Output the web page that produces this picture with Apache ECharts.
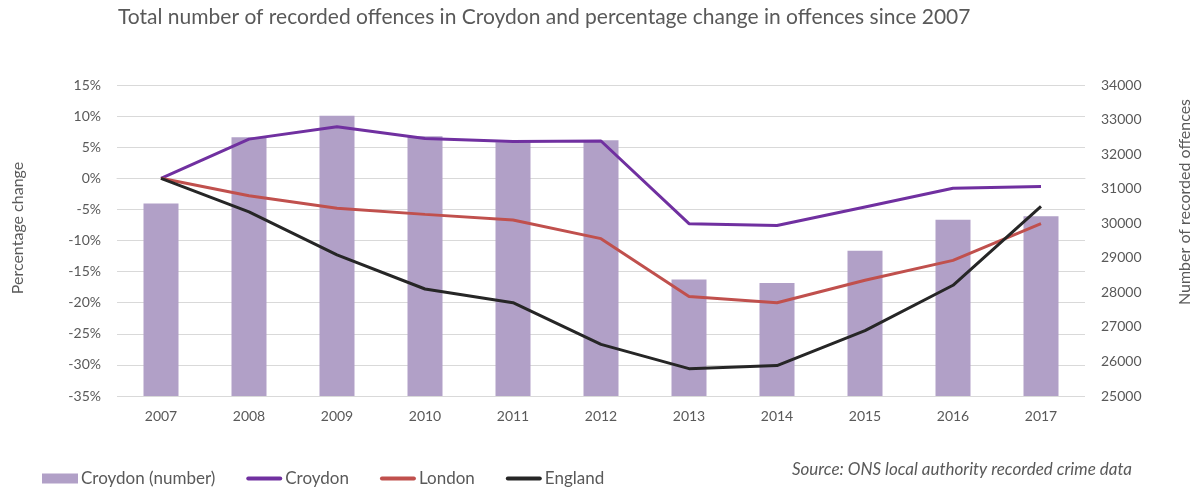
<!DOCTYPE html>
<html><head><meta charset="utf-8">
<script src="https://cdn.jsdelivr.net/npm/echarts@6/dist/echarts.min.js"></script>
<style>html,body{margin:0;padding:0;background:#fff}#c{width:1196px;height:488px}</style>
</head><body><div id="c"></div>
<script>
const years = ['2007','2008','2009','2010','2011','2012','2013','2014','2015','2016','2017'];
const croydonNumber = [30570, 32490, 33110, 32520, 32340, 32400, 28370, 28270, 29200, 30100, 30200];
const croydonPct = [0, 6.3, 8.3, 6.4, 5.9, 6.0, -7.3, -7.6, -4.6, -1.6, -1.3];
const londonPct = [0, -2.8, -4.8, -5.8, -6.7, -9.7, -19.0, -20.0, -16.4, -13.2, -7.3];
const englandPct = [0, -5.4, -12.3, -17.8, -20.0, -26.7, -30.6, -30.1, -24.5, -17.2, -4.5];

const FONT = 'Lato';
const GREY = '#595959';
const LINE_ICON = 'path://M2,0 L34,0 A2,2 0 0 1 34,4 L2,4 A2,2 0 0 1 2,0 Z';
const chart = echarts.init(document.getElementById('c'));
chart.setOption({
  animation: false,
  textStyle: { fontFamily: FONT },
  title: {
    text: 'Total number of recorded offences in Croydon and percentage change in offences since 2007',
    left: 113, top: 2,
    textStyle: { fontFamily: FONT, fontSize: 21, fontWeight: 'normal', color: GREY }
  },
  grid: { left: 117, right: 111, top: 85, bottom: 92 },
  legend: {
    left: 37, top: 465, itemGap: 31, itemWidth: 36, itemHeight: 10,
    textStyle: { fontFamily: FONT, fontSize: 17, color: GREY, padding: [0, 0, 0, -2] },
    data: [
      { name: 'Croydon (number)', icon: 'rect' },
      { name: 'Croydon', icon: LINE_ICON },
      { name: 'London', icon: LINE_ICON },
      { name: 'England', icon: LINE_ICON }
    ]
  },
  xAxis: {
    type: 'category', data: years,
    axisLine: { lineStyle: { color: '#d9d9d9' } },
    axisTick: { show: false },
    axisLabel: { color: GREY, fontSize: 14, margin: 13, fontFamily: FONT }
  },
  yAxis: [
    {
      type: 'value', min: -35, max: 15, interval: 5,
      axisLabel: { formatter: '{value}%', color: GREY, fontSize: 14, margin: 16, fontFamily: FONT },
      axisLine: { show: false }, axisTick: { show: false },
      splitLine: { lineStyle: { color: '#d9d9d9', width: 1 } }
    },
    {
      type: 'value', min: 25000, max: 34000, interval: 1000,
      axisLabel: { formatter: function (v) { return String(v); }, color: GREY, fontSize: 14, margin: 16, fontFamily: FONT },
      axisLine: { show: false }, axisTick: { show: false },
      splitLine: { show: false }
    }
  ],
  graphic: [
    { type: 'text', x: 18, y: 228, rotation: Math.PI / 2,
      style: { text: 'Percentage change', fontFamily: FONT, fontSize: 16, fill: GREY, align: 'center', verticalAlign: 'middle' } },
    { type: 'text', x: 1185, y: 202, rotation: Math.PI / 2,
      style: { text: 'Number of recorded offences', fontFamily: FONT, fontSize: 16, fill: GREY, align: 'center', verticalAlign: 'middle' } },
    { type: 'text', x: 1132, y: 470,
      style: { text: 'Source: ONS local authority recorded crime data', fontFamily: FONT, fontSize: 17, fontStyle: 'italic', fill: GREY, align: 'right', verticalAlign: 'middle' } }
  ],
  series: [
    { name: 'Croydon (number)', type: 'bar', yAxisIndex: 1, data: croydonNumber, barWidth: 35,
      itemStyle: { color: '#b1a0c7' } },
    { name: 'Croydon', type: 'line', yAxisIndex: 0, data: croydonPct, symbol: 'none',
      lineStyle: { color: '#7030a0', width: 3 }, itemStyle: { color: '#7030a0' } },
    { name: 'London', type: 'line', yAxisIndex: 0, data: londonPct, symbol: 'none',
      lineStyle: { color: '#c0504d', width: 3 }, itemStyle: { color: '#c0504d' } },
    { name: 'England', type: 'line', yAxisIndex: 0, data: englandPct, symbol: 'none',
      lineStyle: { color: '#262626', width: 3 }, itemStyle: { color: '#262626' } }
  ]
});
</script></body></html>
